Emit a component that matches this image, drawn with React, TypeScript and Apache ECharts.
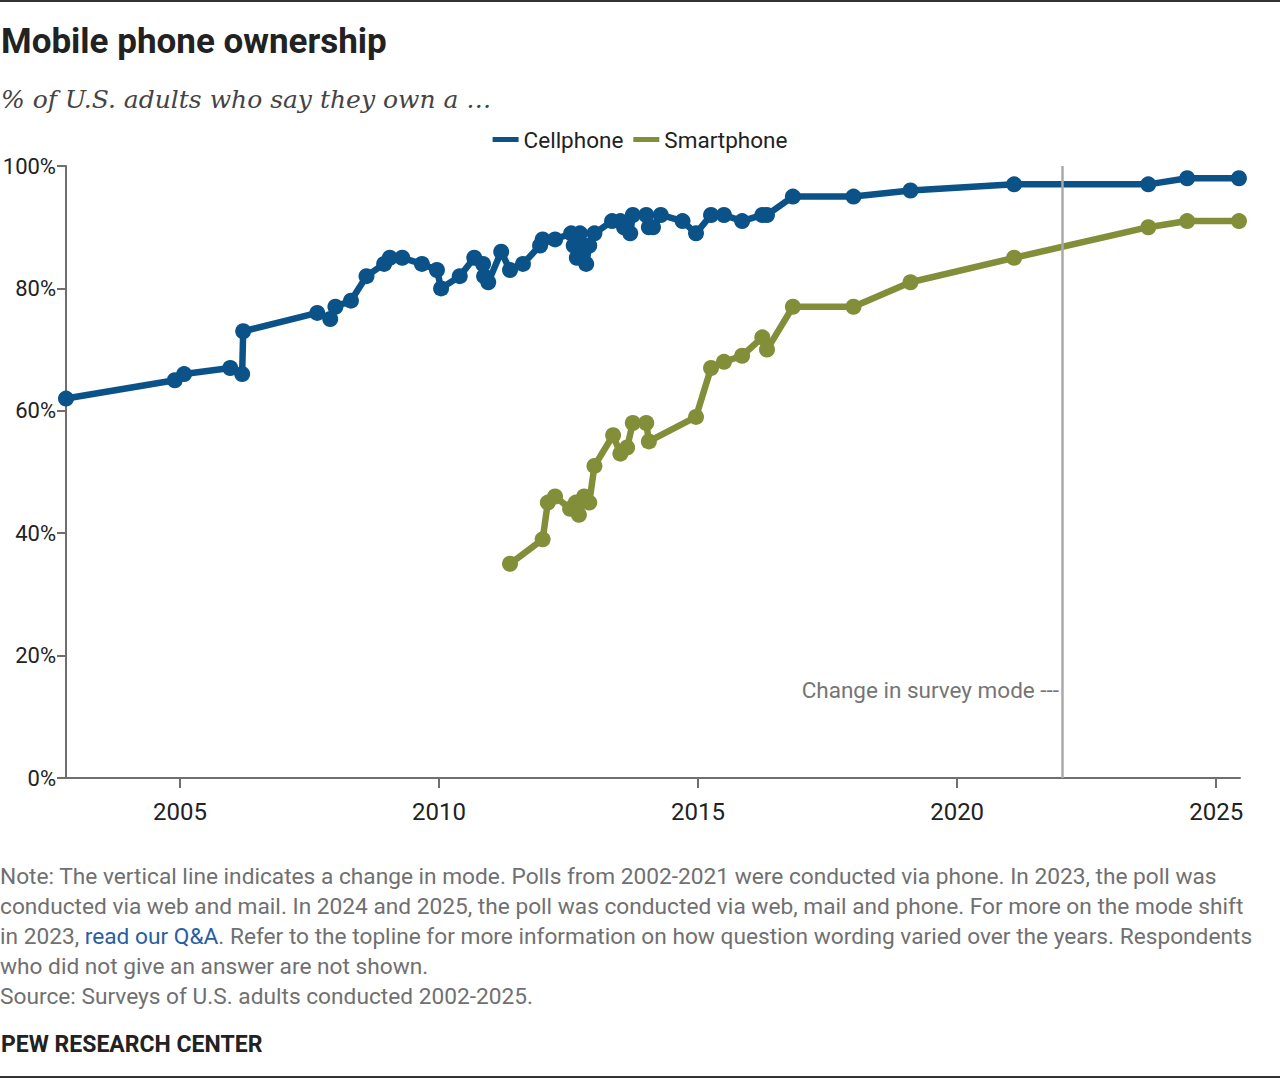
import React, { useEffect, useRef } from "react";
import * as echarts from "echarts";

const cellYears = [2002.8, 2004.9, 2005.08, 2005.97, 2006.2, 2006.22, 2007.65, 2007.9, 2008.0, 2008.3, 2008.6, 2008.94, 2009.05, 2009.29, 2009.67, 2009.96, 2010.04, 2010.4, 2010.68, 2010.85, 2010.87, 2010.95, 2011.2, 2011.37, 2011.62, 2011.95, 2012.0, 2012.24, 2012.55, 2012.6, 2012.66, 2012.72, 2012.78, 2012.84, 2012.9, 2013.0, 2013.34, 2013.5, 2013.57, 2013.69, 2013.74, 2014.0, 2014.05, 2014.13, 2014.28, 2014.7, 2014.96, 2015.25, 2015.5, 2015.85, 2016.24, 2016.33, 2016.83, 2018.0, 2019.1, 2021.1, 2023.69, 2024.44, 2025.44];
const cellValues = [62, 65, 66, 67, 66, 73, 76, 75, 77, 78, 82, 84, 85, 85, 84, 83, 80, 82, 85, 84, 82, 81, 86, 83, 84, 87, 88, 88, 89, 87, 85, 89, 87, 84, 87, 89, 91, 91, 90, 89, 92, 92, 90, 90, 92, 91, 89, 92, 92, 91, 92, 92, 95, 95, 96, 97, 97, 98, 98];

const smartYears = [2011.37, 2012.0, 2012.1, 2012.24, 2012.53, 2012.64, 2012.7, 2012.8, 2012.9, 2013.0, 2013.36, 2013.5, 2013.63, 2013.74, 2014.0, 2014.05, 2014.96, 2015.25, 2015.5, 2015.85, 2016.24, 2016.33, 2016.83, 2018.0, 2019.1, 2021.1, 2023.69, 2024.44, 2025.44];
const smartValues = [35, 39, 45, 46, 44, 45, 43, 46, 45, 51, 56, 53, 54, 58, 58, 55, 59, 67, 68, 69, 72, 70, 77, 77, 81, 85, 90, 91, 91];

const xTicks = [2005, 2010, 2015, 2020, 2025];
const modeChangeYear = 2022.03;

const noteLines = [
  "Note: The vertical line indicates a change in mode. Polls from 2002-2021 were conducted via phone. In 2023, the poll was",
  "conducted via web and mail. In 2024 and 2025, the poll was conducted via web, mail and phone. For more on the mode shift",
  "in 2023, {link|read our Q&A}. Refer to the topline for more information on how question wording varied over the years. Respondents",
  "who did not give an answer are not shown.",
  "Source: Surveys of U.S. adults conducted 2002-2025.",
];

const CELL = "#0B5288";
const SMART = "#838E39";
const FONT = "Roboto, 'Liberation Sans', sans-serif";

export default function App() {
  const ref = useRef<HTMLDivElement>(null);
  useEffect(() => {
    document.body.style.margin = "0";
    const chart = echarts.init(ref.current!, null, { renderer: "svg" });
    const cellData = cellYears.map((y, i) => [y, cellValues[i]]);
    const smartData = smartYears.map((y, i) => [y, smartValues[i]]);
    chart.setOption({
      animation: false,
      backgroundColor: "#fff",
      textStyle: { fontFamily: FONT },
      grid: { left: 66, right: 40, top: 166, bottom: 300, outerBoundsMode: "none", containLabel: false },
      legend: {
        top: 123,
        left: "center",
        itemWidth: 26,
        itemHeight: 5,
        itemGap: 10,
        icon: "rect",
        textStyle: { fontSize: 22.5, color: "#222", fontFamily: FONT },
        data: ["Cellphone", "Smartphone"],
      },
      xAxis: {
        type: "value",
        min: 2002.8,
        max: 2025.46,
        splitLine: { show: false },
        axisLine: { show: true, lineStyle: { color: "#6f6f6f", width: 2 } },
        axisTick: { show: true, length: 10, lineStyle: { color: "#6f6f6f", width: 2 }, customValues: xTicks },
        axisLabel: { customValues: xTicks, fontSize: 24, color: "#222", margin: 22, fontFamily: FONT, formatter: (v: number) => String(v) },
      },
      yAxis: {
        type: "value",
        min: 0,
        max: 100,
        interval: 20,
        splitLine: { show: false },
        axisLine: { show: true, lineStyle: { color: "#6f6f6f", width: 2 } },
        axisTick: { show: true, length: 9, lineStyle: { color: "#6f6f6f", width: 2 } },
        axisLabel: { fontSize: 22, color: "#222", margin: 10, fontFamily: FONT, formatter: (v: number) => v + "%" },
      },
      series: [
        {
          name: "Cellphone",
          type: "line",
          data: cellData,
          color: CELL,
          lineStyle: { width: 6.5, color: CELL },
          symbol: "circle",
          symbolSize: 16,
          itemStyle: { color: CELL },
          z: 3,
          markLine: {
            silent: true,
            symbol: "none",
            label: { show: false },
            lineStyle: { color: "#aaaaaa", width: 2.5, type: "solid" },
            data: [{ xAxis: modeChangeYear }],
          },
        },
        {
          name: "Smartphone",
          type: "line",
          data: smartData,
          color: SMART,
          lineStyle: { width: 6.5, color: SMART },
          symbol: "circle",
          symbolSize: 16,
          itemStyle: { color: SMART },
          z: 3,
        },
      ],
      graphic: [
        { type: "rect", shape: { x: 0, y: 0, width: 1280, height: 2 }, style: { fill: "#333" } },
        { type: "rect", shape: { x: 0, y: 1076, width: 1280, height: 2 }, style: { fill: "#333" } },
        {
          type: "text", x: 1, y: 41,
          style: { text: "Mobile phone ownership", fontSize: 35, fontWeight: "bold", fill: "#222", verticalAlign: "middle", fontFamily: FONT },
        },
        {
          type: "text", x: 1, y: 99,
          style: { text: "% of U.S. adults who say they own a \u2026", fontSize: 25, fontStyle: "italic", fill: "#444", verticalAlign: "middle", fontFamily: "'DejaVu Serif', serif" },
        },
        {
          type: "text", x: 1059, y: 690,
          style: { text: "Change in survey mode ---", fontSize: 22.5, fill: "#757575", align: "right", verticalAlign: "middle", fontFamily: FONT },
        },
        {
          type: "text", x: 0, y: 861,
          style: {
            text: noteLines.join("\n"),
            fontSize: 22.7,
            lineHeight: 30,
            fill: "#707070",
            fontFamily: FONT,
            rich: { link: { fill: "#2A5EA0", fontSize: 22.7, lineHeight: 30, fontFamily: FONT } },
          },
        },
        {
          type: "text", x: 1, y: 1044,
          style: { text: "PEW RESEARCH CENTER", fontSize: 23, fontWeight: "bold", fill: "#222", verticalAlign: "middle", fontFamily: FONT },
        },
      ],
    });
    return () => chart.dispose();
  }, []);
  return <div ref={ref} style={{ width: 1280, height: 1078 }} />;
}
